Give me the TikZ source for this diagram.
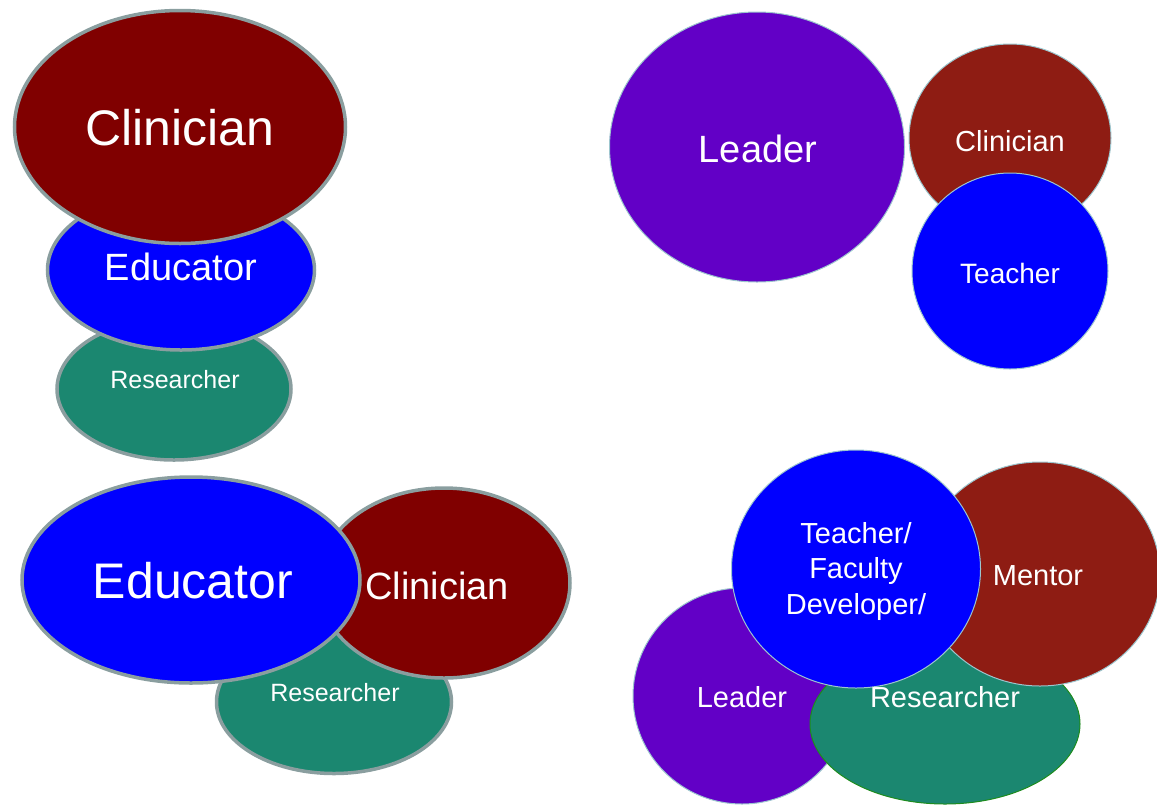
\documentclass[tikz,border=0pt]{standalone}
\usepackage{fontspec}
\setmainfont{Liberation Sans}
\usetikzlibrary{shapes.geometric}
\definecolor{clinRed}{HTML}{800000}
\definecolor{mentorRed}{HTML}{8E1C13}
\definecolor{eduBlue}{HTML}{0000FF}
\definecolor{resTeal}{HTML}{1B8770}
\definecolor{leadPurple}{HTML}{6200C6}
\definecolor{rimGrey}{HTML}{8A9E9F}
\definecolor{rimLight}{HTML}{9CC6CE}
\definecolor{rimGreen}{HTML}{1E8C1E}

\tikzset{
  blob/.style={ellipse, inner sep=0pt, draw=rimGrey, line width=3.5pt},
  bubble/.style={ellipse, inner sep=0pt, draw=rimLight, line width=1pt},
  txt/.style={text=white, inner sep=0pt, align=center}
}
\newcommand{\fsz}[2]{\fontsize{#1}{#2}\selectfont}

\begin{document}
\begin{tikzpicture}[x=1pt, y=-1pt]
%--------------------------------------------------
\useasboundingbox (0,0) rectangle (1157,804);

% top left: stacked ellipses
\node[blob, fill=resTeal, minimum width=234, minimum height=142] (resA) at (174,389) {};
\node[blob, fill=eduBlue, minimum width=267, minimum height=160] (eduA) at (181,270) {};
\node[blob, fill=clinRed, minimum width=331, minimum height=233] (clinA) at (180,127) {};
\node[txt, font=\fsz{50}{60}] (clinAtxt) at (180,128) {Clinician};
\node[txt, font=\fsz{38}{46}] (eduAtxt) at (181,267) {Educator};
\node[txt, font=\fsz{25}{30}] (resAtxt) at (175,380) {Researcher};

% top right: three circles
\node[bubble, fill=leadPurple, minimum width=295, minimum height=270] (leadB) at (757,147) {};
\node[bubble, fill=mentorRed, minimum width=202, minimum height=188] (clinB) at (1010,138) {};
\node[bubble, fill=eduBlue, minimum width=196, minimum height=196] (teachB) at (1010,271) {};
\node[txt, font=\fsz{38}{46}] (leadBtxt) at (758,149) {Leader};
\node[txt, font=\fsz{29}{35}] (clinBtxt) at (1010,141) {Clinician};
\node[txt, font=\fsz{28}{34}] (teachBtxt) at (1010,273) {Teacher};

% bottom left: overlapping ellipses
\node[blob, fill=resTeal, minimum width=235, minimum height=143] (resC) at (334,702) {};
\node[blob, fill=clinRed, minimum width=252, minimum height=190] (clinC) at (444,583) {};
\node[blob, fill=eduBlue, minimum width=338, minimum height=206] (eduC) at (191,580) {};
\node[txt, font=\fsz{50}{60}] (eduCtxt) at (193,581) {Educator};
\node[txt, font=\fsz{38}{46}] (clinCtxt) at (437,586) {Clinician};
\node[txt, font=\fsz{25}{30}] (resCtxt) at (335,693) {Researcher};

% bottom right: four roles
\node[bubble, fill=leadPurple, minimum width=218, minimum height=216] (leadD) at (742,696) {};
\node[bubble, draw=rimGreen, fill=resTeal, minimum width=270, minimum height=160] (resD) at (945,724) {};
\node[bubble, fill=mentorRed, minimum width=240, minimum height=224] (mentD) at (1040,574) {};
\node[bubble, fill=eduBlue, minimum width=249, minimum height=238] (teachD) at (856,569) {};
\node[txt, font=\fsz{29}{35.5}] (teachDtxt) at (856,571) {Teacher/\\Faculty\\Developer/};
\node[txt, font=\fsz{29}{35}] (mentDtxt) at (1038,576) {Mentor};
\node[txt, font=\fsz{29}{35}] (leadDtxt) at (742,697) {Leader};
\node[txt, font=\fsz{29}{35}] (resDtxt) at (945,697) {Researcher};

%--------------------------------------------------
\end{tikzpicture}
\end{document}
